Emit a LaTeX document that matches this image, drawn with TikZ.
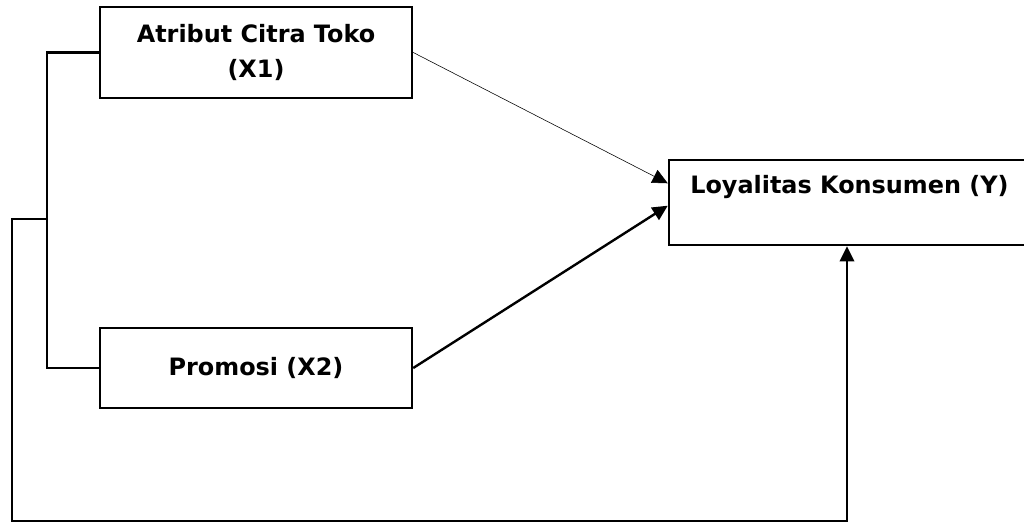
\documentclass[tikz,border=0pt]{standalone}
\usepackage{fontspec}
\setmainfont{DejaVu Sans}
\usetikzlibrary{arrows.meta}
\tikzset{
	varbox/.style={shape=rectangle, draw, line width=1.7pt, minimum width=7.8cm, align=center, font=\bfseries\fontsize{17}{23.5}\selectfont},
	link/.style={line width=1.7pt},
	tip/.style={-{Triangle[length=0.38cm,width=0.36cm]}}
}
\begin{document}
\begin{tikzpicture}[x=0.025cm, y=-0.025cm]
		\useasboundingbox (0,0) rectangle (1024,523);
		\node[varbox, minimum height=2.275cm] (Atr) at (256,52.5) {Atribut Citra Toko\\[1pt](X1)};
		\node[varbox, minimum height=2cm] (Pro) at (256,368) {Promosi (X2)};
		\node[varbox, minimum width=8.9cm, minimum height=2.125cm] (Loy) at (847,202.5) {};
		\node[anchor=west, inner sep=0pt, font=\bfseries\fontsize{17}{23.5}\selectfont] (LoyText) at (690,187) {Loyalitas Konsumen (Y)};
		\coordinate (branch) at (48,219);
		\coordinate (corner) at (12,521);
		% Connections
		%% Left bracket
		\draw [link] (Atr.west) -- ++(-52,0) |- (Pro.west);
		\draw [link, tip] (branch) -| (corner) -| (Loy.south);
		%% Into Y
		\draw [line width=0.4pt, tip] (Atr.east) -- ([yshift=0.48cm]Loy.west);
		\draw [link, tip] (Pro.east) -- ([yshift=-0.08cm]Loy.west);
	\end{tikzpicture}
\end{document}
